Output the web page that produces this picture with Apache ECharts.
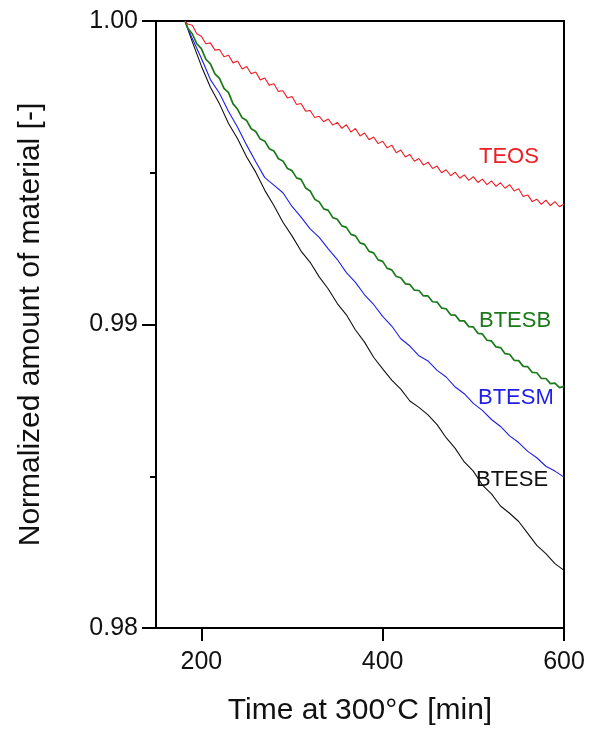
<!DOCTYPE html>
<html>
<head>
<meta charset="utf-8">
<title>Normalized amount of material</title>
<script src="https://cdn.jsdelivr.net/npm/echarts@6/dist/echarts.min.js"></script>
<style>
  html, body { margin: 0; padding: 0; background: #fff; }
  #chart { width: 590px; height: 731px; }
</style>
</head>
<body>
<div id="chart"></div>
<script>
// time at 300 C [min]; the two noisier curves are read at a finer step
var timeFine = [182, 185, 190, 195, 200, 205, 210, 215, 220, 225, 230, 235, 240, 245, 250, 255, 260, 265, 270, 275,
  280, 285, 290, 295, 300, 305, 310, 315, 320, 325, 330, 335, 340, 345, 350, 355, 360, 365, 370, 375,
  380, 385, 390, 395, 400, 405, 410, 415, 420, 425, 430, 435, 440, 445, 450, 455, 460, 465, 470, 475,
  480, 485, 490, 495, 500, 505, 510, 515, 520, 525, 530, 535, 540, 545, 550, 555, 560, 565, 570, 575,
  580, 585, 590, 595, 600];
var timeCoarse = [182, 190, 200, 210, 220, 230, 240, 250, 260, 270, 280, 290, 300, 310, 320, 330, 340, 350, 360, 370,
  380, 390, 400, 410, 420, 430, 440, 450, 460, 470, 480, 490, 500, 510, 520, 530, 540, 550, 560, 570, 580, 590, 600];

// TEOS (timeFine)
var teos = [1.00000, 0.99990, 0.99986, 0.99958, 0.99950, 0.99925, 0.99928, 0.99904, 0.99906, 0.99882,
  0.99887, 0.99862, 0.99868, 0.99842, 0.99850, 0.99826, 0.99832, 0.99806, 0.99812, 0.99788,
  0.99793, 0.99768, 0.99770, 0.99746, 0.99751, 0.99725, 0.99728, 0.99703, 0.99705, 0.99682,
  0.99686, 0.99668, 0.99677, 0.99657, 0.99666, 0.99646, 0.99658, 0.99634, 0.99646, 0.99621,
  0.99631, 0.99609, 0.99618, 0.99596, 0.99604, 0.99582, 0.99591, 0.99566, 0.99575, 0.99552,
  0.99560, 0.99538, 0.99547, 0.99525, 0.99535, 0.99514, 0.99522, 0.99500, 0.99510, 0.99490,
  0.99502, 0.99482, 0.99493, 0.99475, 0.99487, 0.99468, 0.99479, 0.99461, 0.99473, 0.99455,
  0.99467, 0.99449, 0.99461, 0.99440, 0.99447, 0.99422, 0.99427, 0.99405, 0.99413, 0.99396,
  0.99410, 0.99392, 0.99405, 0.99388, 0.99397];

// BTESB (timeFine)
var btesb = [1.00000, 0.99976, 0.99958, 0.99925, 0.99909, 0.99874, 0.99859, 0.99826, 0.99811, 0.99778,
  0.99764, 0.99727, 0.99709, 0.99681, 0.99672, 0.99645, 0.99636, 0.99611, 0.99604, 0.99579,
  0.99572, 0.99546, 0.99539, 0.99514, 0.99507, 0.99483, 0.99478, 0.99450, 0.99440, 0.99413,
  0.99404, 0.99381, 0.99376, 0.99352, 0.99347, 0.99325, 0.99320, 0.99297, 0.99292, 0.99269,
  0.99264, 0.99241, 0.99236, 0.99213, 0.99208, 0.99185, 0.99180, 0.99158, 0.99154, 0.99134,
  0.99132, 0.99113, 0.99112, 0.99094, 0.99094, 0.99075, 0.99074, 0.99054, 0.99052, 0.99032,
  0.99031, 0.99012, 0.99012, 0.98993, 0.98992, 0.98971, 0.98969, 0.98948, 0.98946, 0.98926,
  0.98924, 0.98904, 0.98902, 0.98882, 0.98881, 0.98862, 0.98861, 0.98842, 0.98841, 0.98822,
  0.98822, 0.98805, 0.98807, 0.98792, 0.98796];

// BTESM (timeCoarse)
var btesm = [1.00000, 0.99942, 0.99877, 0.99807, 0.99762, 0.99702, 0.99650, 0.99591, 0.99536, 0.99484,
  0.99459, 0.99434, 0.99389, 0.99354, 0.99315, 0.99287, 0.99249, 0.99214, 0.99171, 0.99139,
  0.99098, 0.99066, 0.99027, 0.98995, 0.98953, 0.98929, 0.98897, 0.98880, 0.98849, 0.98827,
  0.98794, 0.98772, 0.98740, 0.98717, 0.98687, 0.98664, 0.98633, 0.98611, 0.98582, 0.98561,
  0.98533, 0.98517, 0.98497];

// BTESE (timeCoarse)
var btese = [1.00000, 0.99932, 0.99852, 0.99782, 0.99727, 0.99662, 0.99612, 0.99552, 0.99502, 0.99442,
  0.99392, 0.99337, 0.99292, 0.99242, 0.99205, 0.99157, 0.99117, 0.99069, 0.99032, 0.98982,
  0.98942, 0.98892, 0.98854, 0.98817, 0.98787, 0.98748, 0.98727, 0.98702, 0.98670, 0.98627,
  0.98592, 0.98547, 0.98517, 0.98471, 0.98442, 0.98402, 0.98378, 0.98351, 0.98312, 0.98272,
  0.98245, 0.98212, 0.98190];

var xTicks = [200, 400, 600];
var names = ['TEOS', 'BTESB', 'BTESM', 'BTESE'];
var colors = ['#ee1c24', '#1a7a1a', '#1f1fe6', '#111111'];

function pairs(times, vals) {
  var out = [];
  for (var i = 0; i < times.length; i++) out.push([times[i], vals[i]]);
  return out;
}

var font = '"Liberation Sans", Arial, sans-serif';
var myChart = echarts.init(document.getElementById('chart'));

var curves = [
  { data: pairs(timeFine, teos), width: 1.1 },
  { data: pairs(timeFine, btesb), width: 1.7 },
  { data: pairs(timeCoarse, btesm), width: 1.1 },
  { data: pairs(timeCoarse, btese), width: 1.1 }
];

myChart.setOption({
  animation: false,
  backgroundColor: '#fff',
  grid: { left: 156, right: 26, top: 21, bottom: 101, show: true, borderColor: '#000', borderWidth: 2 },
  xAxis: {
    type: 'value',
    min: 150,
    max: 600,
    name: 'Time at 300°C [min]',
    nameLocation: 'middle',
    nameGap: 68,
    nameTextStyle: { fontFamily: font, fontSize: 30, color: '#111' },
    axisLine: { lineStyle: { color: '#000', width: 2 } },
    axisTick: { customValues: xTicks, length: 13, lineStyle: { color: '#000', width: 2 } },
    axisLabel: { customValues: xTicks, margin: 22, fontFamily: font, fontSize: 25, color: '#111' },
    splitLine: { show: false }
  },
  yAxis: {
    type: 'value',
    min: 0.98,
    max: 1.00,
    interval: 0.01,
    name: 'Normalized amount of material [-]',
    nameLocation: 'middle',
    nameGap: 110,
    nameTextStyle: { fontFamily: font, fontSize: 30, color: '#111' },
    axisLine: { lineStyle: { color: '#000', width: 2 } },
    axisTick: { length: 14, lineStyle: { color: '#000', width: 2 } },
    minorTick: { show: true, splitNumber: 2, length: 6, lineStyle: { color: '#000', width: 2 } },
    axisLabel: {
      margin: 18, fontFamily: font, fontSize: 25, color: '#111',
      formatter: function (v) { return v.toFixed(2); }
    },
    splitLine: { show: false }
  },
  series: curves.map(function (c, i) {
    return {
      name: names[i],
      type: 'line',
      showSymbol: false,
      data: c.data,
      lineStyle: { color: colors[i], width: c.width },
      z: 4 - i
    };
  }),
  graphic: [
    { type: 'text', left: 479, top: 146, style: { text: 'TEOS', fill: colors[0], font: '22px ' + font } },
    { type: 'text', left: 479, top: 310, style: { text: 'BTESB', fill: colors[1], font: '22px ' + font } },
    { type: 'text', left: 478, top: 387, style: { text: 'BTESM', fill: colors[2], font: '22px ' + font } },
    { type: 'text', left: 476, top: 469, style: { text: 'BTESE', fill: colors[3], font: '22px ' + font } }
  ]
});
</script>
</body>
</html>
